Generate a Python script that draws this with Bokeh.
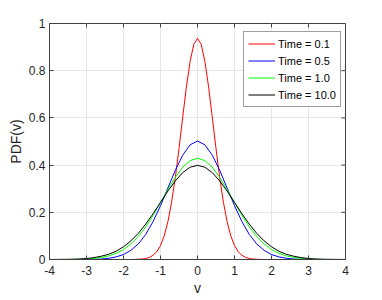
import math
from bokeh.plotting import figure
from bokeh.models import Range1d, FixedTicker, Legend, LegendItem
from bokeh.embed import file_html
from bokeh.resources import INLINE

# ---- data ----
v = [-4.0, -3.8, -3.6, -3.4, -3.2, -3.0, -2.8, -2.6, -2.4, -2.2, -2.0,
     -1.8, -1.6, -1.4, -1.2, -1.0, -0.8, -0.6, -0.4, -0.2, 0.0,
     0.2, 0.4, 0.6, 0.8, 1.0, 1.2, 1.4, 1.6, 1.8, 2.0,
     2.2, 2.4, 2.6, 2.8, 3.0, 3.2, 3.4, 3.6, 3.8, 4.0]

pdf_t05 = [0.0, 0.0, 0.0, 0.0, 0.0001, 0.0004, 0.001, 0.002, 0.005, 0.011, 0.021,
           0.039, 0.066, 0.106, 0.161, 0.228, 0.303, 0.378, 0.442, 0.486, 0.502,
           0.486, 0.442, 0.378, 0.303, 0.228, 0.161, 0.106, 0.066, 0.039, 0.021,
           0.011, 0.005, 0.002, 0.001, 0.0004, 0.0001, 0.0, 0.0, 0.0, 0.0]

pdf_t1 = [0.0, 0.0001, 0.0002, 0.0005, 0.001, 0.002, 0.005, 0.009, 0.015, 0.026, 0.042,
          0.066, 0.098, 0.138, 0.187, 0.241, 0.296, 0.348, 0.391, 0.419, 0.429,
          0.419, 0.391, 0.348, 0.296, 0.241, 0.187, 0.138, 0.098, 0.066, 0.042,
          0.026, 0.015, 0.009, 0.005, 0.002, 0.001, 0.0005, 0.0002, 0.0001, 0.0]

pdf_t10 = [0.0001, 0.0003, 0.0006, 0.001, 0.002, 0.004, 0.008, 0.014, 0.022, 0.035, 0.054,
           0.079, 0.111, 0.150, 0.194, 0.242, 0.290, 0.333, 0.368, 0.391, 0.399,
           0.391, 0.368, 0.333, 0.290, 0.242, 0.194, 0.150, 0.111, 0.079, 0.054,
           0.035, 0.022, 0.014, 0.008, 0.004, 0.002, 0.001, 0.0006, 0.0003, 0.0001]

v_fine = [-4.0, -2.0, -1.9, -1.8, -1.7, -1.6, -1.5, -1.4, -1.3, -1.2, -1.1,
          -1.0, -0.9, -0.8, -0.7, -0.6, -0.5, -0.4, -0.3, -0.2, -0.1, 0.0,
          0.1, 0.2, 0.3, 0.4, 0.5, 0.6, 0.7, 0.8, 0.9, 1.0,
          1.1, 1.2, 1.3, 1.4, 1.5, 1.6, 1.7, 1.8, 1.9, 2.0, 4.0]

pdf_t01 = [0.0, 0.0, 0.0, 0.0001, 0.0003, 0.001, 0.002, 0.004, 0.009, 0.018, 0.033,
           0.059, 0.100, 0.160, 0.243, 0.347, 0.470, 0.603, 0.731, 0.839, 0.912, 0.937,
           0.912, 0.839, 0.731, 0.603, 0.470, 0.347, 0.243, 0.160, 0.100, 0.059,
           0.033, 0.018, 0.009, 0.004, 0.002, 0.001, 0.0003, 0.0001, 0.0, 0.0, 0.0]

series_labels = ["Time = 0.1", "Time = 0.5", "Time = 1.0", "Time = 10.0"]
series_colors = ["#ff0000", "#0000ff", "#00ff00", "#000000"]

x_ticks = [-4, -3, -2, -1, 0, 1, 2, 3, 4]
x_tick_labels = ["-4", "-3", "-2", "-1", "0", "1", "2", "3", "4"]
y_ticks = [0, 0.2, 0.4, 0.6, 0.8, 1.0]
y_tick_labels = ["0", "0.2", "0.4", "0.6", "0.8", "1"]

# ---- figure ----
FONT = "Liberation Sans"
AX = "#404040"
TXT = "#262626"

xr = Range1d(-4, 4)
yr = Range1d(0, 1)
p = figure(width=382, height=300, output_backend="svg", toolbar_location=None,
           x_range=xr, y_range=yr,
           min_border_left=49, min_border_right=37, min_border_top=23, min_border_bottom=41)
p.background_fill_color = "white"
p.border_fill_color = "white"
p.outline_line_color = AX
p.outline_line_width = 1

for ax, ticks, labs in ((p.xaxis[0], x_ticks, x_tick_labels), (p.yaxis[0], y_ticks, y_tick_labels)):
    ax.ticker = FixedTicker(ticks=ticks)
    ax.major_label_overrides = {t: l for t, l in zip(ticks, labs)}
    ax.major_tick_in = 4
    ax.major_tick_out = 0
    ax.minor_tick_in = 0
    ax.minor_tick_out = 0
    ax.axis_line_color = AX
    ax.major_tick_line_color = AX
    ax.major_label_text_font = FONT
    ax.major_label_text_font_size = "12px"
    ax.major_label_text_color = TXT
    ax.axis_label_text_font = FONT
    ax.axis_label_text_font_size = "14px"
    ax.axis_label_text_font_style = "normal"
    ax.axis_label_text_color = TXT

p.xaxis[0].axis_label = "v"
p.xaxis[0].major_label_standoff = 6
p.xaxis[0].axis_label_standoff = 2
p.yaxis[0].axis_label = "PDF(v)"
p.yaxis[0].major_label_standoff = 4
p.yaxis[0].axis_label_standoff = 2

# inward ticks on the top and right edges of the box
p.ray(x=x_ticks, y=[yr.end] * len(x_ticks), length=4, length_units="screen",
      angle=-math.pi / 2, line_color=AX, line_width=1)
p.ray(x=[xr.end] * len(y_ticks), y=y_ticks, length=4, length_units="screen",
      angle=math.pi, line_color=AX, line_width=1)

p.xgrid.ticker = FixedTicker(ticks=x_ticks)
p.ygrid.ticker = FixedTicker(ticks=y_ticks)
p.grid.grid_line_color = "#e6e6e6"
p.grid.grid_line_width = 1

r1 = p.line(v_fine, pdf_t01, line_color=series_colors[0], line_width=1)
r2 = p.line(v, pdf_t05, line_color=series_colors[1], line_width=1)
r3 = p.line(v, pdf_t1, line_color=series_colors[2], line_width=1)
r4 = p.line(v, pdf_t10, line_color=series_colors[3], line_width=1)

legend = Legend(items=[LegendItem(label=l, renderers=[r]) for l, r in zip(series_labels, [r1, r2, r3, r4])],
                location=(194, 152))
legend.border_line_color = AX
legend.border_line_width = 1
legend.background_fill_color = "white"
legend.background_fill_alpha = 1
legend.label_text_font = FONT
legend.label_text_font_size = "11px"
legend.label_text_color = "#000000"
legend.glyph_width = 27
legend.glyph_height = 15
legend.label_height = 15
legend.label_standoff = 3
legend.spacing = 2
legend.padding = 4
legend.margin = 0
p.add_layout(legend, "center")

open("out.html", "w").write(file_html(p, INLINE))
